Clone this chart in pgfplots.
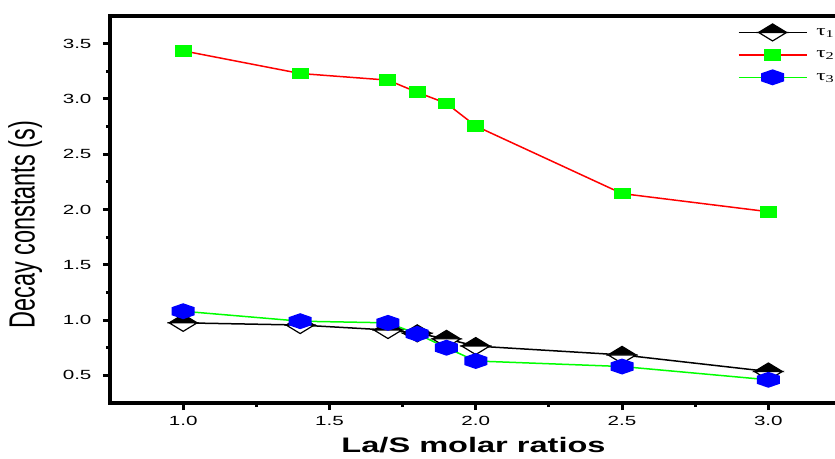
\documentclass[border=0pt]{standalone}
\usepackage{pgfplots}
\pgfplotsset{compat=1.18}
\usepackage{fontspec}
\setmainfont{Liberation Sans}
\newfontfamily\serifgreek{Liberation Serif}

\definecolor{pgreen}{RGB}{0,255,0}
\definecolor{pblue}{RGB}{0,0,255}
\definecolor{pred}{RGB}{255,0,0}

\pgfdeclareplotmark{halfdiamond}{%
  \pgfpathmoveto{\pgfqpoint{-14pt}{0pt}}%
  \pgfpathlineto{\pgfqpoint{0pt}{8.5pt}}%
  \pgfpathlineto{\pgfqpoint{14pt}{0pt}}%
  \pgfpathclose
  \pgfusepathqfillstroke
  \begin{pgfscope}%
  \pgfsetfillcolor{white}%
  \pgfpathmoveto{\pgfqpoint{-14pt}{0pt}}%
  \pgfpathlineto{\pgfqpoint{0pt}{-8.5pt}}%
  \pgfpathlineto{\pgfqpoint{14pt}{0pt}}%
  \pgfpathclose
  \pgfusepathqfillstroke
  \end{pgfscope}%
}
\pgfdeclareplotmark{flathex}{%
  \pgfpathmoveto{\pgfqpoint{0pt}{8pt}}%
  \pgfpathlineto{\pgfqpoint{11.5pt}{4pt}}%
  \pgfpathlineto{\pgfqpoint{11.5pt}{-4pt}}%
  \pgfpathlineto{\pgfqpoint{0pt}{-8pt}}%
  \pgfpathlineto{\pgfqpoint{-11.5pt}{-4pt}}%
  \pgfpathlineto{\pgfqpoint{-11.5pt}{4pt}}%
  \pgfpathclose
  \pgfusepathqfill
}
\pgfdeclareplotmark{widesq}{%
  \pgfpathrectangle{\pgfqpoint{-8.5pt}{-5.8pt}}{\pgfqpoint{17pt}{11.6pt}}%
  \pgfusepathqfill
}

\newcommand{\hs}[1]{\scalebox{1.55}[1]{#1}}

\begin{document}
\begin{tikzpicture}
\begin{axis}[
  at={(0pt,0pt)}, anchor=south west,
  scale only axis,
  width=731.5pt, height=387pt,
  xmin=0.75, xmax=3.25,
  ymin=0.25, ymax=3.75,
  xtick={1,1.5,2,2.5,3},
  ytick={0.5,1,1.5,2,2.5,3,3.5},
  minor x tick num=1,
  minor y tick num=1,
  tick pos=left,
  tick align=outside,
  major tick length=7pt,
  minor tick length=4pt,
  every tick/.style={black, line width=3pt},
  axis line style={line width=4.5pt},
  /pgf/number format/assume math mode=true,
  /pgf/number format/.cd, fixed, fixed zerofill, precision=1, /pgfplots/.cd,
  xticklabel={\hs{\pgfmathprintnumber{\tick}}},
  yticklabel={\hs{\pgfmathprintnumber{\tick}}},
  ticklabel style={font=\fontsize{13.3}{14}\selectfont},
  xticklabel style={yshift=-3pt},
  yticklabel style={xshift=-8pt},
  xlabel={\hs{\bfseries La/S molar ratios}},
  ylabel={\scalebox{1}[1.55]{Decay constants (s)}},
  every axis x label/.style={at={(axis description cs:0.497,-0.129)}, anchor=base, font=\fontsize{21}{24}\selectfont},
  every axis y label/.style={at={(axis description cs:-0.116,0.461)}, rotate=90, anchor=center, font=\fontsize{23.5}{26}\selectfont},
  legend style={draw=none, fill=none, at={(rel axis cs:0.858,0.980)}, anchor=north west,
    font=\fontsize{15}{17}\selectfont, row sep=8pt, inner sep=0pt,
    /tikz/every odd column/.append style={column sep=7pt}},
  legend cell align=left,
  legend image code/.code={%
    \draw[mark repeat=2, mark phase=2, #1] plot coordinates {(0pt,0pt) (34pt,0pt) (68pt,0pt)};},
]
\addplot[black, line width=1.5pt, mark=halfdiamond, mark options={draw=black, fill=black, line width=1.2pt}]
  coordinates {(1.0,0.975) (1.4,0.955) (1.7,0.91) (1.8,0.88) (1.9,0.83) (2.0,0.765) (2.5,0.685) (3.0,0.535)};
\addlegendentry{\hs{\serifgreek τ\textsubscript{1}}}
\addplot[pred, line width=1.5pt, mark=widesq, mark options={fill=pgreen, draw=none}]
  coordinates {(1.0,3.435) (1.4,3.23) (1.7,3.17) (1.8,3.06) (1.9,2.96) (2.0,2.755) (2.5,2.144) (3.0,1.98)};
\addlegendentry{\hs{\serifgreek τ\textsubscript{2}}}
\addplot[pgreen, line width=1.5pt, mark=flathex, mark options={fill=pblue, draw=none}]
  coordinates {(1.0,1.08) (1.4,0.99) (1.7,0.975) (1.8,0.875) (1.9,0.75) (2.0,0.63) (2.5,0.58) (3.0,0.46)};
\addlegendentry{\hs{\serifgreek τ\textsubscript{3}}}
\end{axis}
\pgfresetboundingbox
\path (-110pt,-55pt) rectangle (725pt,403pt);
\end{tikzpicture}
\end{document}
